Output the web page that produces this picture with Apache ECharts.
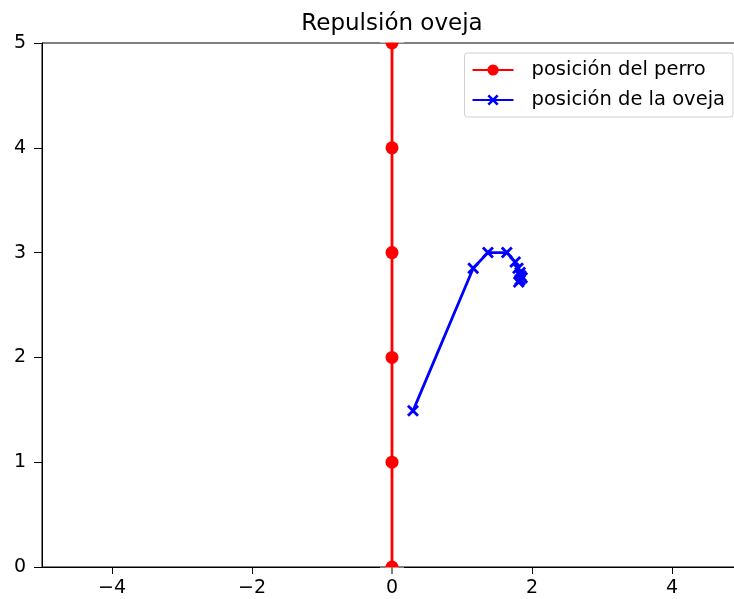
<!DOCTYPE html>
<html>
<head>
<meta charset="utf-8">
<script src="https://cdn.jsdelivr.net/npm/echarts@6/dist/echarts.min.js"></script>
<style>html,body{margin:0;padding:0;background:#fff}#c{width:734px;height:599px}</style>
</head>
<body>
<div id="c"></div>
<script>
const titleText = 'Repulsión oveja';
const dogName = 'posición del perro';
const sheepName = 'posición de la oveja';
const dogX = [0, 0, 0, 0, 0, 0];
const dogY = [0, 1, 2, 3, 4, 5];
const sheepX = [0.30, 1.16, 1.37, 1.64, 1.76, 1.80, 1.83, 1.84, 1.86, 1.83, 1.81];
const sheepY = [1.49, 2.85, 3.00, 3.00, 2.91, 2.85, 2.81, 2.78, 2.76, 2.74, 2.72];
const xTicks = [-4, -2, 0, 2, 4];
const yTicks = [0, 1, 2, 3, 4, 5];

const fmt = v => (v < 0 ? '\u2212' + Math.abs(v) : String(v));
const FONT = 'DejaVu Sans';
const xMarker = 'path://M0,2 L2,0 L6,4 L10,0 L12,2 L8,6 L12,10 L10,12 L6,8 L2,12 L0,10 L4,6 Z';

const chart = echarts.init(document.getElementById('c'), null, {renderer: 'canvas'});
chart.setOption({
  animation: false,
  backgroundColor: '#fff',
  title: {
    text: titleText, left: 387, top: 8, textAlign: 'center',
    textStyle: {fontFamily: FONT, fontSize: 23, fontWeight: 'normal', color: '#000'}
  },
  legend: {
    orient: 'vertical', right: 1, top: 53,
    padding: [7, 8, 7, 7], itemGap: 10,
    itemWidth: 41, itemHeight: 14,
    borderColor: '#d0d0d0', borderWidth: 1, borderRadius: 3,
    backgroundColor: '#fff',
    textStyle: {fontFamily: FONT, fontSize: 19.5, color: '#000', padding: [0, 0, 0, 13]},
    data: [dogName, sheepName]
  },
  grid: {left: 42, right: -8, top: 43, bottom: 32, show: true, borderColor: '#000', borderWidth: 1,
         containLabel: false, outerBoundsMode: 'none'},
  xAxis: {
    type: 'value', min: -5, max: 5,
    axisLine: {show: true, onZero: false, lineStyle: {color: '#000', width: 1}},
    axisTick: {show: true, length: 7, lineStyle: {color: '#000'}, customValues: xTicks},
    axisLabel: {customValues: xTicks, formatter: fmt, fontFamily: FONT, fontSize: 19, color: '#000', margin: 12},
    splitLine: {show: false}
  },
  yAxis: {
    type: 'value', min: 0, max: 5, interval: 1,
    axisLine: {show: true, onZero: false, lineStyle: {color: '#000', width: 1}},
    axisTick: {show: true, length: 8, lineStyle: {color: '#000'}, customValues: yTicks},
    axisLabel: {customValues: yTicks, formatter: fmt, fontFamily: FONT, fontSize: 19, color: '#000', margin: 16},
    splitLine: {show: false}
  },
  series: [
    {
      name: dogName, type: 'line', z: 3,
      data: dogX.map((x, i) => [x, dogY[i]]),
      symbol: 'circle', symbolSize: 13, showAllSymbol: true,
      lineStyle: {color: '#ff0000', width: 2.8},
      itemStyle: {color: '#ff0000'}
    },
    {
      name: sheepName, type: 'line', z: 3,
      data: sheepX.map((x, i) => [x, sheepY[i]]),
      symbol: xMarker, symbolSize: 12, showAllSymbol: true,
      lineStyle: {color: '#0000ff', width: 2.8},
      itemStyle: {color: '#0000ff'}
    }
  ],
  graphic: [
    {type: 'rect', z: 100, silent: true, shape: {x: 380, y: 32, width: 24, height: 10.5}, style: {fill: '#fff'}},
    {type: 'rect', z: 100, silent: true, shape: {x: 380, y: 567.5, width: 24, height: 9}, style: {fill: '#fff'}},
    {type: 'line', z: 101, silent: true, shape: {x1: 392, y1: 567.5, x2: 392, y2: 574}, style: {stroke: '#000', lineWidth: 1}}
  ]
});
</script>
</body>
</html>
